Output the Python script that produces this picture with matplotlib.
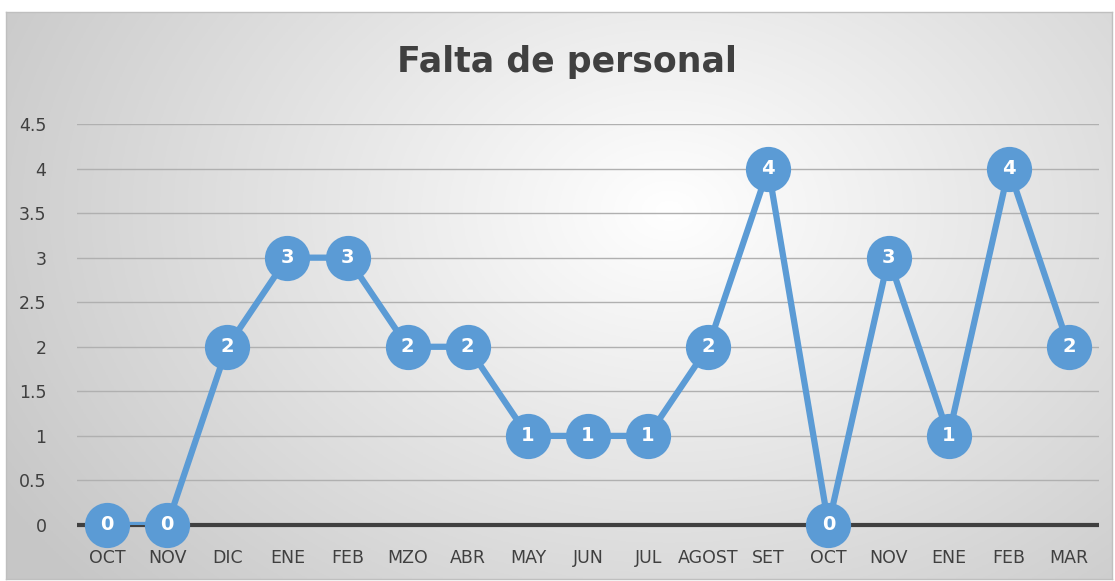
import numpy as np
import matplotlib.pyplot as plt

meses = ["OCT", "NOV", "DIC", "ENE", "FEB", "MZO", "ABR", "MAY", "JUN",
         "JUL", "AGOST", "SET", "OCT", "NOV", "ENE", "FEB", "MAR"]
faltas = [0, 0, 2, 3, 3, 2, 2, 1, 1, 1, 2, 4, 0, 3, 1, 4, 2]
y_ticks = [0, 0.5, 1, 1.5, 2, 2.5, 3, 3.5, 4, 4.5]

azul = "#5B9BD5"
gris = "#404040"

fig = plt.figure(figsize=(11.15, 5.81), dpi=100)
fig.patch.set_facecolor("white")

# fondo con degradado radial
W, H = 1115, 581
x0, x1, y0, y1 = 6, 1112, 12, 579
bg = fig.add_axes([x0 / W, 1 - y1 / H, (x1 - x0) / W, (y1 - y0) / H])
gx, gy = np.meshgrid(np.linspace(0, 1, 400), np.linspace(0, 1, 200))
d = np.sqrt(((gx - 0.6) / 0.7) ** 2 + ((gy - 0.35) / 1.0) ** 2)
d = np.clip(d, 0, 1)
val = 1.0 - 0.22 * d
bg.imshow(np.dstack([val, val, val]), aspect="auto", extent=[0, 1, 1, 0])
bg.set_xlim(0, 1)
bg.set_ylim(1, 0)
bg.set_xticks([])
bg.set_yticks([])
for s in bg.spines.values():
    s.set_color("#bfbfbf")
    s.set_linewidth(1)
bg.set_zorder(0)

ax = fig.add_axes([77 / W, 1 - 525 / H, (1099 - 77) / W, (525 - 124) / H])
ax.set_zorder(1)
ax.patch.set_alpha(0)
x = np.arange(len(meses))
ax.plot(x, faltas, color=azul, linewidth=4.5, zorder=3, solid_joinstyle="round")
ax.scatter(x, faltas, s=1060, color=azul, zorder=4, linewidths=0, clip_on=False)
for xi, v in zip(x, faltas):
    ax.text(xi, v, str(v), ha="center", va="center", color="white",
            fontsize=14, fontweight="bold", zorder=5)

ax.set_xlim(-0.5, len(meses) - 0.5)
ax.set_ylim(0, 4.5)
ax.set_yticks(y_ticks)
ax.set_yticklabels([f"{t:g}" for t in y_ticks])
ax.set_xticks(x)
ax.set_xticklabels(meses)
ax.tick_params(axis="both", length=0, labelsize=12.5, colors=gris)
ax.tick_params(axis="y", pad=22)
ax.tick_params(axis="x", pad=17)
ax.grid(axis="y", color="#b0b0b0", linewidth=1, zorder=1)
ax.axhline(0, color=gris, linewidth=3, zorder=2, clip_on=False,
           solid_capstyle="butt")
for s in ax.spines.values():
    s.set_visible(False)

fig.text(567 / W, 1 - 62 / H, "Falta de personal", ha="center", va="center",
         fontsize=25, fontweight="bold", color=gris)

fig.savefig("out.png", dpi=100)
